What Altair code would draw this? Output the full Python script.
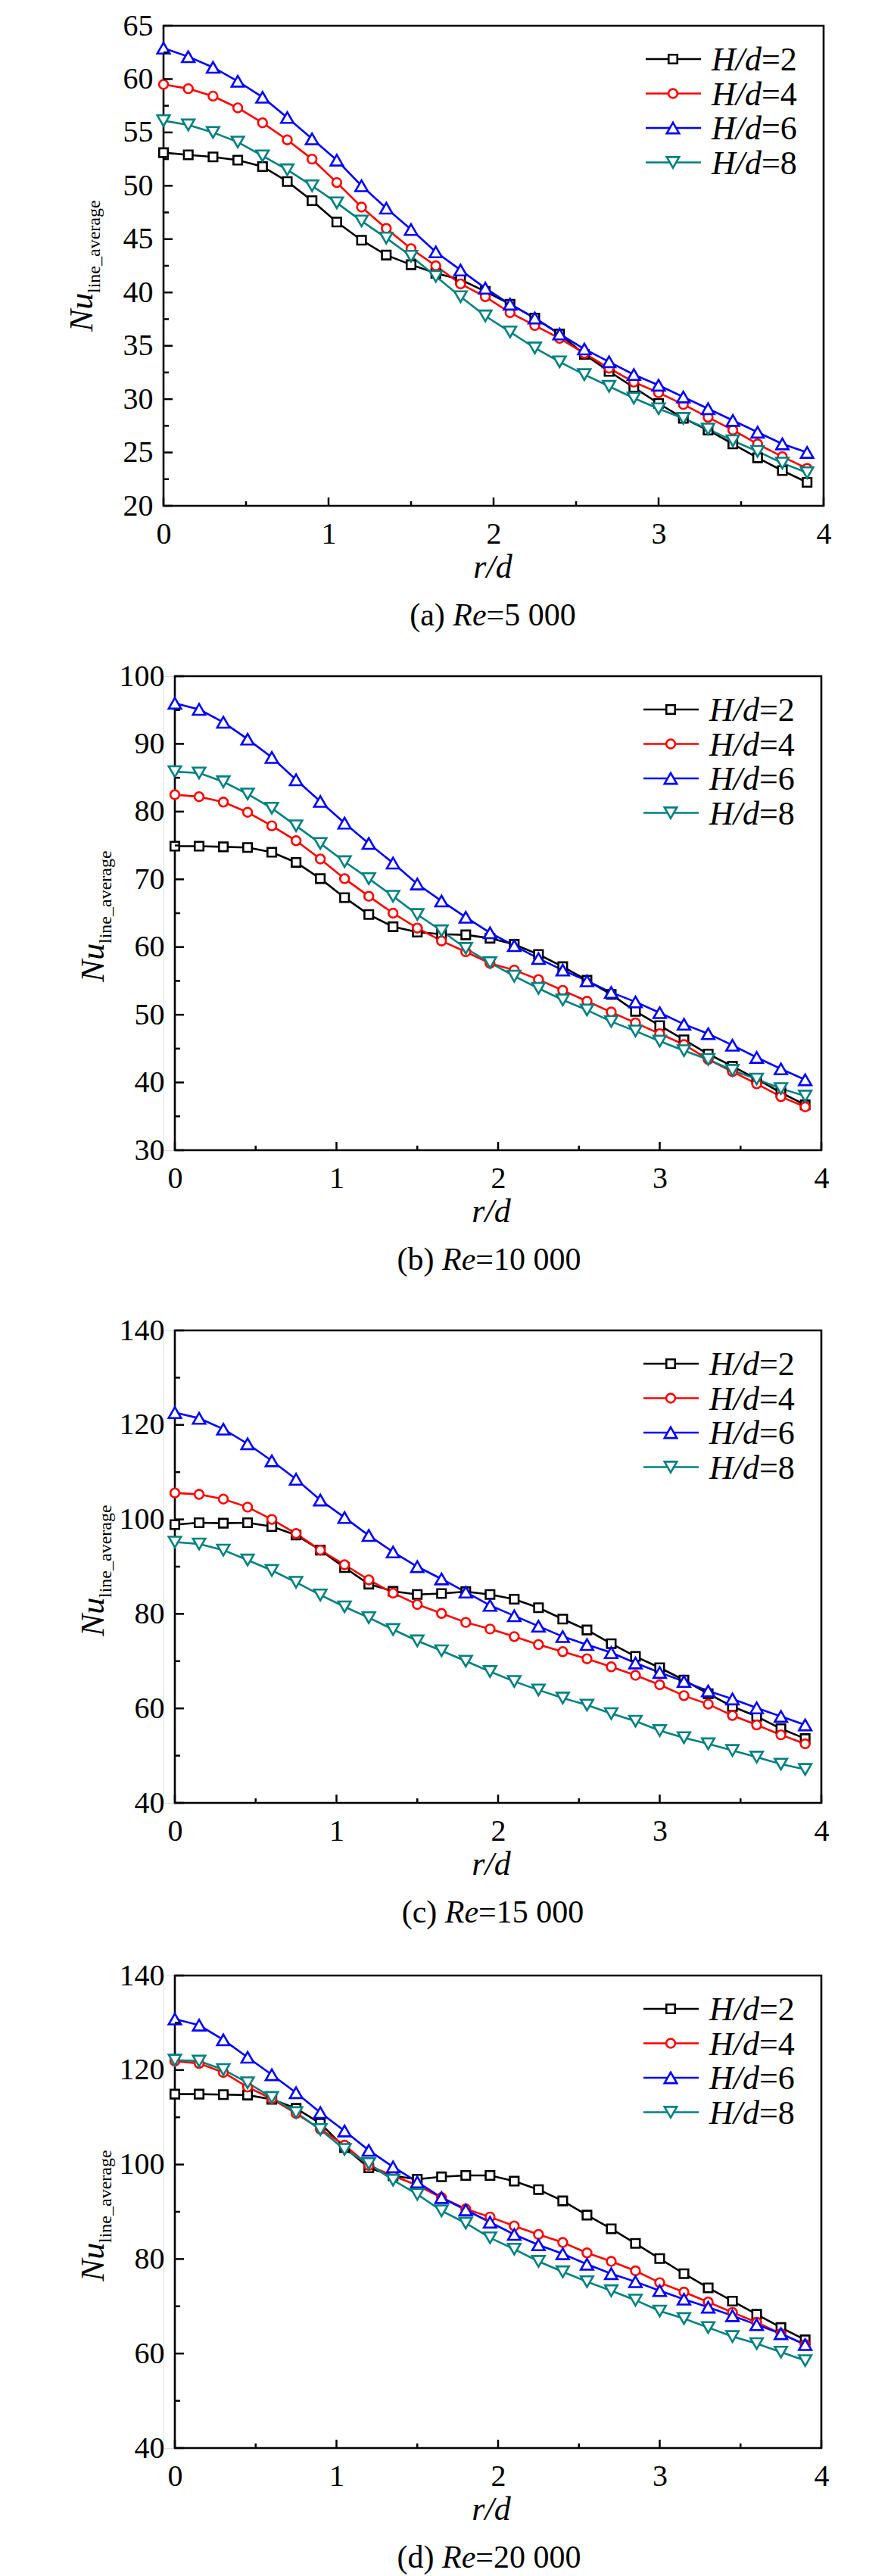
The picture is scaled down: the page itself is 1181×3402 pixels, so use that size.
import altair as alt
import pandas as pd

# ---------------- data ----------------
R = [0.0, 0.15, 0.3, 0.45, 0.6, 0.75, 0.9, 1.05, 1.2, 1.35, 1.5, 1.65, 1.8, 1.95,
     2.1, 2.25, 2.4, 2.55, 2.7, 2.85, 3.0, 3.15, 3.3, 3.45, 3.6, 3.75, 3.9]

SERIES = ["H/d=2", "H/d=4", "H/d=6", "H/d=8"]
SERIES_NUM = ["=2", "=4", "=6", "=8"]
COLORS = ["#000000", "#ff0000", "#0000ff", "#008080"]
SHAPES = ["square", "circle", "triangle-up", "triangle-down"]
SIZES = [132, 140, 270, 270]

# (a) Re = 5 000
a_hd2 = [53.1, 52.9, 52.7, 52.4, 51.8, 50.4, 48.6, 46.6, 44.9, 43.5, 42.6, 41.8, 41.2, 40.1,
         38.9, 37.6, 36.1, 34.2, 32.6, 31.1, 29.6, 28.2, 27.1, 25.8, 24.5, 23.3, 22.2]
a_hd4 = [59.5, 59.1, 58.4, 57.3, 55.9, 54.3, 52.5, 50.3, 48.0, 46.0, 44.1, 42.5, 40.8, 39.6,
         38.1, 36.9, 35.7, 34.3, 32.9, 31.6, 30.6, 29.5, 28.3, 27.1, 25.8, 24.6, 23.5]
a_hd6 = [62.9, 62.1, 61.1, 59.8, 58.3, 56.4, 54.4, 52.4, 50.0, 47.9, 45.9, 43.8, 42.1, 40.4,
         38.9, 37.6, 36.1, 34.7, 33.5, 32.3, 31.3, 30.2, 29.1, 28.0, 26.9, 25.8, 25.0]
a_hd8 = [56.1, 55.7, 55.0, 54.1, 52.8, 51.5, 50.0, 48.4, 46.7, 45.1, 43.4, 41.5, 39.6, 37.8,
         36.3, 34.8, 33.5, 32.3, 31.2, 30.1, 29.1, 28.2, 27.2, 26.1, 25.1, 24.0, 23.1]

# (b) Re = 10 000
b_hd2 = [74.9, 74.9, 74.8, 74.7, 74.0, 72.5, 70.1, 67.3, 64.8, 63.0, 62.2, 61.9, 61.8, 61.3,
         60.4, 58.9, 57.1, 55.1, 53.0, 50.5, 48.4, 46.3, 44.2, 42.4, 40.5, 38.5, 36.7]
b_hd4 = [82.5, 82.2, 81.4, 79.9, 77.9, 75.7, 73.0, 70.1, 67.5, 65.0, 62.8, 60.9, 59.3, 57.6,
         56.6, 55.2, 53.6, 52.0, 50.4, 48.8, 47.2, 45.6, 43.4, 41.6, 39.8, 37.9, 36.4]
b_hd6 = [96.0, 95.1, 93.2, 90.7, 88.0, 84.7, 81.5, 78.3, 75.3, 72.4, 69.3, 66.8, 64.4, 62.1,
         60.2, 58.3, 56.6, 55.0, 53.3, 51.9, 50.3, 48.6, 47.2, 45.5, 43.7, 42.0, 40.4]
b_hd8 = [85.9, 85.7, 84.4, 82.6, 80.5, 77.9, 75.3, 72.6, 70.1, 67.5, 64.8, 62.4, 59.8, 57.7,
         55.7, 53.9, 52.2, 50.7, 49.0, 47.6, 46.1, 44.7, 43.4, 41.8, 40.5, 39.1, 38.0]

# (c) Re = 15 000
c_hd2 = [98.9, 99.3, 99.2, 99.3, 98.5, 96.7, 93.5, 89.8, 86.3, 84.8, 84.1, 84.3, 84.7, 84.1,
         83.1, 81.3, 78.9, 76.6, 73.7, 71.0, 68.6, 66.0, 63.1, 60.4, 58.3, 55.7, 53.6]
c_hd4 = [105.6, 105.3, 104.3, 102.6, 100.0, 97.0, 93.5, 90.4, 87.2, 84.4, 82.0, 80.1, 78.2, 76.8,
         75.2, 73.5, 72.0, 70.5, 68.8, 67.0, 65.0, 62.7, 60.9, 58.5, 56.5, 54.4, 52.5]
c_hd6 = [122.6, 121.4, 119.1, 116.0, 112.4, 108.5, 104.1, 100.4, 96.6, 93.1, 90.0, 87.4, 84.6, 81.8,
         79.6, 77.4, 75.2, 73.5, 71.8, 69.6, 67.6, 65.7, 63.7, 62.0, 60.1, 58.3, 56.5]
c_hd8 = [95.2, 94.8, 93.5, 91.4, 89.2, 86.7, 84.0, 81.5, 79.2, 76.7, 74.3, 72.2, 70.0, 67.8,
         65.7, 63.9, 62.2, 60.7, 58.9, 57.3, 55.3, 53.8, 52.5, 51.1, 49.7, 48.2, 47.1]

# (d) Re = 20 000
d_hd2 = [114.9, 114.9, 114.8, 114.7, 113.8, 111.9, 108.7, 103.6, 99.3, 97.6, 96.9, 97.4, 97.7, 97.7,
         96.5, 94.7, 92.3, 89.3, 86.4, 83.3, 80.1, 76.9, 73.9, 71.1, 68.3, 65.5, 62.9]
d_hd4 = [121.9, 121.4, 119.5, 116.4, 113.9, 110.8, 107.5, 104.1, 99.8, 97.6, 95.6, 93.0, 90.6, 88.9,
         87.0, 85.2, 83.5, 81.3, 79.5, 77.5, 75.0, 73.0, 70.9, 68.7, 66.6, 64.2, 61.9]
d_hd6 = [130.8, 129.5, 126.4, 122.7, 119.0, 115.2, 111.0, 107.1, 103.0, 99.5, 96.3, 93.0, 90.4, 87.8,
         85.2, 83.0, 81.1, 78.9, 76.9, 75.2, 73.3, 71.5, 69.8, 68.0, 66.1, 64.2, 61.9]
d_hd8 = [122.1, 121.9, 120.1, 117.3, 114.2, 111.0, 107.4, 103.2, 100.2, 96.7, 93.7, 90.2, 87.6, 84.5,
         82.1, 79.5, 77.3, 75.2, 73.3, 71.3, 69.0, 67.4, 65.5, 63.6, 62.1, 60.3, 58.5]

X_MAJOR = [0, 1, 2, 3, 4]
X_MINOR = [0.5, 1.5, 2.5, 3.5]

A_MAJOR = [20, 25, 30, 35, 40, 45, 50, 55, 60, 65]
A_MINOR = [22.5, 27.5, 32.5, 37.5, 42.5, 47.5, 52.5, 57.5, 62.5]
B_MAJOR = [30, 40, 50, 60, 70, 80, 90, 100]
B_MINOR = [35, 45, 55, 65, 75, 85, 95]
CD_MAJOR = [40, 60, 80, 100, 120, 140]
CD_MINOR = [50, 70, 90, 110, 130]

FONT = "Liberation Serif"

# x0: left edge of the plot frame inside the panel group (panels b-d sit 15 px right of panel a)
panels = [
    dict(vals=[a_hd2, a_hd4, a_hd6, a_hd8], x0=0, PW=872, H=634, dom=[20, 65], major=A_MAJOR, minor=A_MINOR,
         cap_x=435, rd_x=435, bext=201,
         cap=["(a) ", "Re", "=5 000"], capw=[1.36, 1.055, 2.814]),
    dict(vals=[b_hd2, b_hd4, b_hd6, b_hd8], x0=15, PW=854, H=626, dom=[30, 100], major=B_MAJOR, minor=B_MINOR,
         cap_x=415, rd_x=418, bext=214,
         cap=["(b) ", "Re", "=10 000"], capw=[1.416, 1.055, 3.314]),
    dict(vals=[c_hd2, c_hd4, c_hd6, c_hd8], x0=15, PW=854, H=624, dom=[40, 140], major=CD_MAJOR, minor=CD_MINOR,
         cap_x=420, rd_x=418, bext=204,
         cap=["(c) ", "Re", "=15 000"], capw=[1.36, 1.055, 3.314]),
    dict(vals=[d_hd2, d_hd4, d_hd6, d_hd8], x0=15, PW=854, H=624, dom=[40, 140], major=CD_MAJOR, minor=CD_MINOR,
         cap_x=415, rd_x=418, bext=168,
         cap=["(d) ", "Re", "=20 000"], capw=[1.416, 1.055, 3.314]),
]

ONE = pd.DataFrame({"k": [0]})


def text_layer(txt, x, y, size, italic=False, align="left", baseline="middle", angle=None):
    kw = dict(text=txt, font=FONT, fontSize=size, color="black", align=align, baseline=baseline,
              fontStyle="italic" if italic else "normal")
    if angle is not None:
        kw["angle"] = angle
    return alt.Chart(ONE).mark_text(**kw).encode(x=alt.value(x), y=alt.value(y))


def make_panel(p):
    x0, PW, H = p["x0"], p["PW"], p["H"]
    W = x0 + PW
    xs = alt.Scale(domain=[0, 4], nice=False, zero=False, range=[x0, W])
    ys = alt.Scale(domain=p["dom"], nice=False, zero=False)
    xaxis = alt.Axis(values=X_MAJOR, format="d", ticks=False, tickSize=0, domain=False, grid=False,
                     labelFontSize=40, labelFont=FONT, labelColor="black", labelPadding=17,
                     labelFlush=False, title=None)
    yaxis = alt.Axis(values=p["major"], format="d", ticks=False, tickSize=0, domain=False, grid=False,
                     labelFontSize=40, labelFont=FONT, labelColor="black", labelPadding=14,
                     labelFlush=False, title=None, offset=-x0)
    X = alt.X("x:Q", scale=xs, axis=xaxis)
    Y = alt.Y("y:Q", scale=ys, axis=yaxis)

    layers = []
    # invisible extent rule (controls panel bounds)
    layers.append(alt.Chart(ONE).mark_rule(strokeOpacity=0).encode(
        x=alt.value(x0), y=alt.value(-22), y2=alt.value(H + p["bext"])))
    # plot frame
    layers.append(alt.Chart(ONE).mark_rect(fillOpacity=0, stroke="black", strokeWidth=2.6).encode(
        x=alt.value(x0), x2=alt.value(W), y=alt.value(0), y2=alt.value(H)))

    frames = []
    for s, v in zip(SERIES, p["vals"]):
        frames.append(pd.DataFrame({"x": R, "y": v, "s": s}))
    df = pd.concat(frames, ignore_index=True)

    color = alt.Color("s:N", scale=alt.Scale(domain=SERIES, range=COLORS), legend=None)
    layers.append(alt.Chart(df).mark_line(strokeWidth=2.6).encode(x=X, y=Y, color=color))
    for s, c, sh, sz in zip(SERIES, COLORS, SHAPES, SIZES):
        layers.append(alt.Chart(df[df.s == s]).mark_point(
            shape=sh, size=sz, filled=True, fill="white", stroke=c, strokeWidth=2.6,
            opacity=1, fillOpacity=1, strokeOpacity=1).encode(x=X, y=Y))

    # inward ticks
    layers.append(alt.Chart(pd.DataFrame({"x": X_MAJOR})).mark_rule(color="black", strokeWidth=2.5).encode(
        x=X, y=alt.value(H), y2=alt.value(H - 11)))
    layers.append(alt.Chart(pd.DataFrame({"x": X_MINOR})).mark_rule(color="black", strokeWidth=2.5).encode(
        x=X, y=alt.value(H), y2=alt.value(H - 6)))
    layers.append(alt.Chart(pd.DataFrame({"y": p["major"]})).mark_rule(color="black", strokeWidth=2.5).encode(
        y=Y, x=alt.value(x0), x2=alt.value(x0 + 12)))
    layers.append(alt.Chart(pd.DataFrame({"y": p["minor"]})).mark_rule(color="black", strokeWidth=2.5).encode(
        y=Y, x=alt.value(x0), x2=alt.value(x0 + 7)))

    # legend
    fs_leg = 44
    for i, (num, c, sh, sz) in enumerate(zip(SERIES_NUM, COLORS, SHAPES, SIZES)):
        yy = 44 + i * 45.5
        layers.append(alt.Chart(ONE).mark_rule(color=c, strokeWidth=2.7).encode(
            x=alt.value(W - 235), x2=alt.value(W - 162), y=alt.value(yy)))
        layers.append(alt.Chart(ONE).mark_point(
            shape=sh, size=sz, filled=True, fill="white", stroke=c, strokeWidth=2.6,
            opacity=1, fillOpacity=1, strokeOpacity=1).encode(x=alt.value(W - 199), y=alt.value(yy)))
        xt = W - 148
        layers.append(text_layer("H/d", xt, yy + 2, fs_leg, italic=True))
        layers.append(text_layer(num, xt + 1.5 * fs_leg, yy + 2, fs_leg))

    # y title: Nu_line_average
    layers.append(text_layer("Nu", x0 - 94, 404, 44, italic=True, baseline="alphabetic", angle=270))
    layers.append(text_layer("line_average", x0 - 84, 353, 24, baseline="alphabetic", angle=270))

    # x title
    layers.append(text_layer("r/d", x0 + p["rd_x"], H + 82, 44, italic=True, align="center"))

    # caption
    fs_cap = 42
    total = sum(p["capw"]) * fs_cap
    cx = x0 + p["cap_x"] - total / 2
    layers.append(text_layer(p["cap"][0], cx, H + 145, fs_cap))
    layers.append(text_layer(p["cap"][1], cx + p["capw"][0] * fs_cap, H + 145, fs_cap, italic=True))
    layers.append(text_layer(p["cap"][2], cx + (p["capw"][0] + p["capw"][1]) * fs_cap, H + 145, fs_cap))

    return alt.layer(*layers).properties(width=W, height=H)


charts = [make_panel(p) for p in panels]

chart = alt.vconcat(*charts, spacing=0).properties(
    padding={"left": 78, "top": 3, "right": 0, "bottom": 0}
).configure_view(strokeWidth=0).configure(background="white")

chart.save("out.html", embed_options={"renderer": "svg", "actions": False})
